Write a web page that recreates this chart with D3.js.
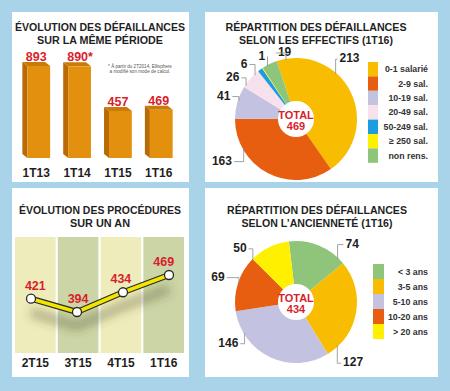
<!DOCTYPE html>
<html><head><meta charset="utf-8">
<script src="https://cdn.jsdelivr.net/npm/d3@7"></script>
<style>
body{margin:0;background:#a9d3e8;}
svg{display:block;font-family:"Liberation Sans",Arial,sans-serif;}
</style></head><body>
<svg id="c" width="450" height="391"></svg>
<script>
// ---------- DATA ----------
const barCategories = ["1T13", "1T14", "1T15", "1T16"];
const barValues = [893, 890, 457, 469];
const barValueLabels = ["893", "890*", "457", "469"];

const lineCategories = ["2T15", "3T15", "4T15", "1T16"];
const lineValues = [421, 394, 434, 469];

const effectifsCategories = ["0-1 salarié", "2-9 sal.", "10-19 sal.", "20-49 sal.", "50-249 sal.", "≥ 250 sal.", "non rens."];
const effectifsValues = [213, 163, 41, 26, 6, 1, 19];
const effectifsTotal = 469;

const ancienneteCategories = ["< 3 ans", "3-5 ans", "5-10 ans", "10-20 ans", "> 20 ans"];
const ancienneteValues = [74, 127, 146, 69, 50];
const ancienneteTotal = 434;

// ---------- STYLE / LAYOUT ----------
const effColors = ["#f8bd00", "#e85e10", "#c3c2e1", "#f7e1ec", "#1c9ddf", "#fff000", "#8fc57a"];
const ancColors = ["#8fc57a", "#f8bd00", "#c3c2e1", "#e85e10", "#fff000"];
const effLabelNudge = [-22, 33, 2, -8, -7, 5, 16];
const effLabelRadius = [81, 85, 76, 76, 76, 72, 68];
const ancLabelNudge = [22, 37, 34, 0, -20];
const ancLabelRadius = [81, 83, 79, 82, 78];
const RED = "#d81e2c", DARK = "#1f1f1f";

const svg = d3.select("#c");
const defs = svg.append("defs");
defs.append("filter").attr("id", "blur").attr("x", "-20%").attr("y", "-50%").attr("width", "140%").attr("height", "200%")
  .append("feGaussianBlur").attr("stdDeviation", 5);

// panels
const panels = [[12, 12, 177, 170], [205, 12, 233, 170], [12, 188, 177, 189], [205, 188, 233, 189]];
svg.selectAll("rect.panel").data(panels).enter().append("rect").attr("class", "panel")
  .attr("x", d => d[0]).attr("y", d => d[1]).attr("width", d => d[2]).attr("height", d => d[3])
  .attr("fill", "#ffffff");

function title(lines, cx, y0, widths) {
  lines.forEach((t, i) => {
    svg.append("text").attr("x", cx).attr("y", y0 + i * 12.5).attr("text-anchor", "middle")
      .attr("font-size", 11.5).attr("font-weight", "bold").attr("fill", DARK)
      .attr("textLength", widths[i]).attr("lengthAdjust", "spacingAndGlyphs").text(t);
  });
}

// ---------- PANEL 1: bars ----------
title(["ÉVOLUTION DES DÉFAILLANCES", "SUR LA MÊME PÉRIODE"], 100, 31, [170, 126]);
const xb = d3.scaleBand().domain(barCategories).range([15, 180]).paddingInner(0.32).paddingOuter(0.18);
const yb = d3.scaleLinear().domain([0, 1000]).range([158, 55]);
const side = 5, lift = 4;
const bars = svg.append("g").selectAll("g").data(barValues).enter().append("g");
bars.append("polygon").attr("fill", "#b96a04").attr("points", (d, i) => {
  const x0 = xb(barCategories[i]) + side, top = yb(d), bot = yb(0);
  return [[x0 - side, top - lift], [x0, top], [x0, bot], [x0 - side, bot - lift]].join(" ");
});
bars.append("polygon").attr("fill", "#c97a08").attr("points", (d, i) => {
  const x0 = xb(barCategories[i]) + side, x1 = xb(barCategories[i]) + xb.bandwidth(), top = yb(d);
  return [[x0, top], [x1, top], [x1 - side, top - lift], [x0 - side, top - lift]].join(" ");
});
bars.append("rect").attr("fill", "#e3900f")
  .attr("x", (d, i) => xb(barCategories[i]) + side).attr("y", d => yb(d))
  .attr("width", xb.bandwidth() - side).attr("height", d => yb(0) - yb(d));
bars.append("text").attr("text-anchor", "middle").attr("font-size", 12.5).attr("font-weight", "bold").attr("fill", RED)
  .attr("x", (d, i) => xb(barCategories[i]) + xb.bandwidth() / 2 + (i === 1 ? 3 : 0))
  .attr("y", d => yb(d) - 5).text((d, i) => barValueLabels[i]);
const xAxisB = d3.axisBottom(xb).tickSize(0).tickPadding(0);
const gxb = svg.append("g").attr("transform", "translate(0,168)").call(xAxisB);
gxb.select(".domain").remove();
gxb.selectAll("text").attr("font-size", 12).attr("font-weight", "bold").attr("fill", DARK)
  .attr("font-family", "Liberation Sans, Arial, sans-serif").attr("dy", "0.71em");
svg.append("text").attr("x", 140).attr("y", 68).attr("text-anchor", "middle").attr("font-size", 4.6).attr("fill", "#555")
  .text("* À partir du 2T2014, Ellisphere");
svg.append("text").attr("x", 140).attr("y", 73).attr("text-anchor", "middle").attr("font-size", 4.6).attr("fill", "#555")
  .text("a modifié son mode de calcul.");

// ---------- PANEL 3: line ----------
title(["ÉVOLUTION DES PROCÉDURES", "SUR UN AN"], 100, 214, [162, 60]);
const xBand = d3.scaleBand().domain(lineCategories).range([15, 184]).paddingInner(0.05);
const xp = d3.scalePoint().domain(lineCategories).range([31, 169]);
const yl = d3.scaleLinear().domain([394, 469]).range([312, 275]);
svg.append("g").selectAll("rect").data(lineCategories).enter().append("rect")
  .attr("x", d => xBand(d)).attr("y", 237).attr("width", xBand.bandwidth()).attr("height", 116)
  .attr("fill", (d, i) => i % 2 === 0 ? "#eeecbb" : "#ccd5a6");
const lineGen = d3.line().x((d, i) => xp(lineCategories[i])).y(d => yl(d));
svg.append("path").datum(lineValues).attr("d", lineGen).attr("transform", "translate(0,14)")
  .attr("fill", "none").attr("stroke", "#3a3a20").attr("stroke-opacity", 0.35).attr("stroke-width", 9)
  .attr("filter", "url(#blur)");
svg.append("path").datum(lineValues).attr("d", lineGen).attr("fill", "none").attr("stroke", "#2a2a2a").attr("stroke-width", 6).attr("stroke-linejoin", "round");
svg.append("path").datum(lineValues).attr("d", lineGen).attr("fill", "none").attr("stroke", "#f2e600").attr("stroke-width", 3.6).attr("stroke-linejoin", "round");
svg.append("g").selectAll("circle").data(lineValues).enter().append("circle")
  .attr("cx", (d, i) => xp(lineCategories[i])).attr("cy", d => yl(d)).attr("r", 4.5)
  .attr("fill", "#fff").attr("stroke", "#2a2a2a").attr("stroke-width", 1.3);
svg.append("g").selectAll("text").data(lineValues).enter().append("text")
  .attr("x", (d, i) => xBand(lineCategories[i]) + xBand.bandwidth() / 2).attr("y", d => yl(d) - 9)
  .attr("text-anchor", "middle").attr("font-size", 12.5).attr("font-weight", "bold").attr("fill", RED).text(d => d);
const gxl = svg.append("g").attr("transform", "translate(0,358)").call(d3.axisBottom(xBand).tickSize(0).tickPadding(0));
gxl.select(".domain").remove();
gxl.selectAll("text").attr("font-size", 12).attr("font-weight", "bold").attr("fill", DARK)
  .attr("font-family", "Liberation Sans, Arial, sans-serif").attr("dy", "0.71em");

// ---------- PIES ----------
function drawPie(cx, cy, r, rHole, values, colors, startDeg, nudges, radii, total) {
  const g = svg.append("g").attr("transform", `translate(${cx},${cy})`);
  const s = startDeg * Math.PI / 180;
  const arcs = d3.pie().sort(null).startAngle(s).endAngle(s + 2 * Math.PI)(values);
  const arc = d3.arc().innerRadius(0).outerRadius(r);
  g.selectAll("path").data(arcs).enter().append("path").attr("d", arc).attr("fill", (d, i) => colors[i]);
  g.append("circle").attr("r", rHole).attr("fill", "#fff");
  g.append("text").attr("y", 0).attr("text-anchor", "middle").attr("font-size", 11).attr("font-weight", "bold").attr("fill", RED).text("TOTAL");
  g.append("text").attr("y", 10.5).attr("text-anchor", "middle").attr("font-size", 11).attr("font-weight", "bold").attr("fill", RED).text(total);
  const polar = (a, rr) => [Math.sin(a) * rr, -Math.cos(a) * rr];
  arcs.forEach((d, i) => {
    const a = (d.startAngle + d.endAngle) / 2 + nudges[i] * Math.PI / 180;
    const T = polar(a, radii[i]);
    const t = g.append("text").attr("x", T[0]).attr("y", T[1]).attr("dy", "0.35em").attr("text-anchor", "middle")
      .attr("font-size", 12).attr("font-weight", "bold").attr("fill", DARK).text(d.data);
    const w = t.node().getComputedTextLength();
    const A = polar(a, r - 1);
    const sign = T[0] < -20 ? 1 : -1;
    const C = [T[0] + sign * (w / 2 + 2), T[1] + 1];
    const B = [A[0], C[1]];
    g.append("path").attr("d", d3.line()([A, B, C])).attr("fill", "none").attr("stroke", "#8a8a8a").attr("stroke-width", 0.8);
  });
}
function legend(cats, colors, x, y0, w, h) {
  const g = svg.append("g");
  cats.forEach((c, i) => {
    g.append("rect").attr("x", x).attr("y", y0 + i * h).attr("width", w).attr("height", h).attr("fill", colors[i]);
    g.append("text").attr("x", 428).attr("y", y0 + i * h + h / 2).attr("dy", "0.35em").attr("text-anchor", "end")
      .attr("font-size", 8.8).attr("font-weight", "bold").attr("fill", "#333").text(c);
  });
}

// ---------- PANEL 2 ----------
title(["RÉPARTITION DES DÉFAILLANCES", "SELON LES EFFECTIFS (1T16)"], 316, 31, [181, 154]);
drawPie(296, 119, 61, 18, effectifsValues, effColors, -18.4, effLabelNudge, effLabelRadius, effectifsTotal);
legend(effectifsCategories, effColors, 368, 62, 10, 14.4);

// ---------- PANEL 4 ----------
title(["RÉPARTITION DES DÉFAILLANCES", "SELON L’ANCIENNETÉ (1T16)"], 317, 214, [180, 151]);
drawPie(296, 302, 61, 18, ancienneteValues, ancColors, -6.7, ancLabelNudge, ancLabelRadius, ancienneteTotal);
legend(ancienneteCategories, ancColors, 373, 264, 11, 15);
</script>
</body></html>
